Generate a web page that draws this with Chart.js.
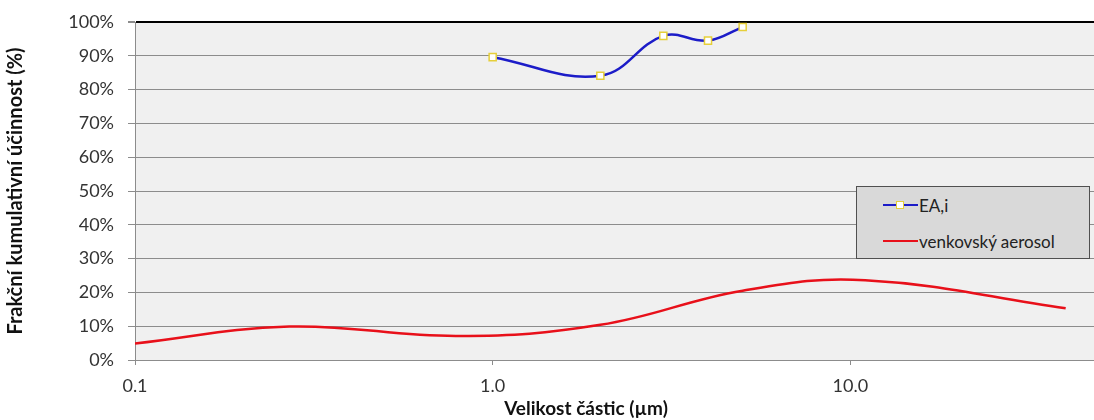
<!DOCTYPE html>
<html>
<head>
<meta charset="utf-8">
<script src="https://cdn.jsdelivr.net/npm/chart.js@4.4.1/dist/chart.umd.min.js"></script>
<style>
    body { margin: 0; background: #ffffff; font-family: Lato, sans-serif; }
    #wrap { position: relative; width: 1094px; height: 420px; }
    #legend {
        position: absolute; left: 856px; top: 186px; width: 232px; height: 71px;
        background: #d9d9d9; border: 1px solid #505050;
    }
    .legend-item { position: absolute; left: 26px; height: 20px; display: flex; align-items: center; font-size: 17px; color: #222; }
    .legend-line { position: relative; width: 35px; height: 2px; margin-right: 1px; }
    .legend-mark { position: absolute; left: 13px; top: -3px; width: 6px; height: 6px; background: #fff; border: 1px solid #e6cf3a; }
</style>
</head>
<body>
<div id="wrap">
    <canvas id="chart" width="1094" height="420"></canvas>
    <div id="legend"></div>
</div>
<script>
// Particle size (µm) and cumulative fractional efficiency (%)
const eaSizes = [1.0, 2.0, 3.0, 4.0, 5.0];
const eaValues = [89.6, 84.1, 95.9, 94.5, 98.5];

const ruralSizes = [0.1, 0.27, 0.8, 2.0, 5.0, 11.0, 40.0];
const ruralValues = [4.9, 9.9, 7.1, 10.4, 20.5, 23.6, 15.3];

const xTicks = [0.1, 1.0, 10.0];
const yMin = 0, yMax = 100, yStep = 10;

const seriesNames = ['EA,i', 'venkovský aerosol'];
const seriesColors = ['#1c1cc8', '#e8101a'];

Chart.defaults.font.family = 'Lato';

// shaded plot area
const plotBackground = {
    id: 'plotBackground',
    beforeDraw(chart) {
        const { ctx, chartArea: a } = chart;
        ctx.save();
        ctx.fillStyle = '#f0f0f0';
        ctx.fillRect(a.left, a.top, a.right - a.left, a.bottom - a.top);
        ctx.restore();
    }
};

// x axis title sits a little left of the plot centre
const xTitle = {
    id: 'xTitle',
    afterDraw(chart) {
        const ctx = chart.ctx;
        ctx.save();
        ctx.font = 'bold 19px Lato';
        ctx.fillStyle = '#111';
        ctx.textAlign = 'center';
        ctx.textBaseline = 'middle';
        ctx.fillText('Velikost částic (µm)', 586, 409);
        ctx.restore();
    }
};

const toPoints = (xs, ys) => xs.map((x, i) => ({ x: x, y: ys[i] }));

const chart = new Chart(document.getElementById('chart'), {
    type: 'line',
    data: {
        datasets: [{
            label: seriesNames[0],
            data: toPoints(eaSizes, eaValues),
            borderColor: seriesColors[0],
            borderWidth: 2.5,
            tension: 0.4,
            pointStyle: 'rect',
            pointRadius: 5,
            pointBackgroundColor: '#ffffff',
            pointBorderColor: '#e6cf3a',
            pointBorderWidth: 1.5
        }, {
            label: seriesNames[1],
            data: toPoints(ruralSizes, ruralValues),
            borderColor: seriesColors[1],
            borderWidth: 2.5,
            tension: 0.4,
            pointRadius: 0
        }]
    },
    options: {
        responsive: false,
        animation: false,
        layout: { autoPadding: false, padding: { top: 22, right: 0, left: 0, bottom: 0 } },
        plugins: {
            legend: { display: false },
            tooltip: { enabled: false }
        },
        scales: {
            x: {
                type: 'logarithmic',
                min: 0.1,
                max: 48,
                afterBuildTicks: scale => { scale.ticks = xTicks.map(v => ({ value: v })); },
                afterFit: scale => {
                    scale.height = 60;
                    scale.paddingLeft = 0;
                    scale.paddingRight = 0;
                },
                ticks: {
                    color: '#333',
                    font: { size: 18 },
                    padding: 10,
                    maxRotation: 0,
                    callback: v => Number(v).toFixed(1)
                },
                grid: { drawOnChartArea: false, tickLength: 5, color: '#8c8c8c' },
                border: { color: '#8c8c8c' }
            },
            y: {
                min: yMin,
                max: yMax,
                afterFit: scale => {
                    scale.width = 135;
                    scale.paddingTop = 0;
                    scale.paddingBottom = 0;
                },
                ticks: {
                    stepSize: yStep,
                    color: '#333',
                    font: { size: 18 },
                    padding: 14,
                    callback: v => v + '%'
                },
                grid: {
                    tickLength: 7,
                    color: c => c.tick && c.tick.value === yMax ? '#000000' : '#8c8c8c',
                    lineWidth: c => c.tick && c.tick.value === yMax ? 2 : 1,
                    tickColor: '#8c8c8c'
                },
                border: { color: '#8c8c8c' },
                title: {
                    display: true,
                    text: 'Frakční kumulativní účinnost (%)',
                    color: '#111',
                    font: { size: 20, weight: 'bold' },
                    padding: { top: 4, bottom: 0 }
                }
            }
        }
    },
    plugins: [plotBackground, xTitle]
});

// legend box drawn inside the plot
function renderLegend() {
    const box = document.getElementById('legend');
    const tops = [8, 44];
    seriesNames.forEach((name, i) => {
        const item = document.createElement('div');
        item.className = 'legend-item';
        item.style.top = tops[i] + 'px';
        const line = document.createElement('div');
        line.className = 'legend-line';
        line.style.background = seriesColors[i];
        if (i === 0) {
            const mark = document.createElement('div');
            mark.className = 'legend-mark';
            line.appendChild(mark);
        }
        const text = document.createElement('span');
        text.innerText = name;
        item.appendChild(line);
        item.appendChild(text);
        box.appendChild(item);
    });
}
renderLegend();
</script>
</body>
</html>
